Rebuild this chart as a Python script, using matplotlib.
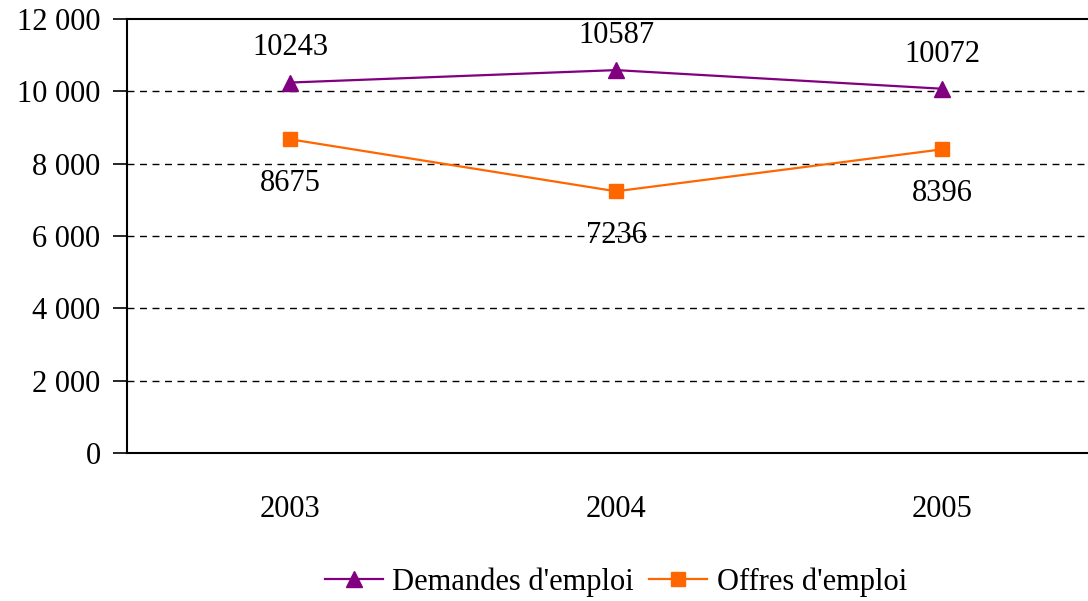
import matplotlib.pyplot as plt
from matplotlib.ticker import FuncFormatter

years = ["2003", "2004", "2005"]
demandes = [10243, 10587, 10072]
offres = [8675, 7236, 8396]

plt.rcParams['font.family'] = ['Liberation Serif', 'DejaVu Serif']
FS = 22

fig = plt.figure(figsize=(10.88, 6.01), dpi=100)
ax = fig.add_axes([127/1088, 148/601, 978/1088, 434/601])

x = list(range(len(years)))
ax.plot(x, demandes, color='#800080', marker='^', markersize=12, lw=1.6,
        label="Demandes d'emploi", zorder=3)
ax.plot(x, offres, color='#FF6600', marker='s', markersize=10.5, lw=1.6,
        label="Offres d'emploi", zorder=3)

for xi, v in zip(x, demandes):
    ax.annotate(str(v), (xi, v), xytext=(0, 25), textcoords='offset points',
                ha='center', va='center', fontsize=FS)
for xi, v in zip(x, offres):
    ax.annotate(str(v), (xi, v), xytext=(0, -32), textcoords='offset points',
                ha='center', va='center', fontsize=FS)

ax.set_xlim(-0.5, 2.5)
ax.set_ylim(0, 12000)
ax.set_yticks(range(0, 12001, 2000))
ax.yaxis.set_major_formatter(FuncFormatter(lambda v, p: f"{int(v):,}".replace(",", " ")))
ax.set_xticks(x)
ax.set_xticklabels(years)
ax.tick_params(axis='x', length=0, pad=30, labelsize=FS)
ax.tick_params(axis='y', length=10, width=1.2, direction='out', pad=9, labelsize=FS)

for yv in range(2000, 12000, 2000):
    ax.axhline(yv, color='black', lw=1, linestyle=(0, (5, 4)), zorder=1)

for s in ax.spines.values():
    s.set_linewidth(1.5)

ax.legend(loc='upper center', bbox_to_anchor=(0.5, -0.2), ncol=2,
          frameon=False, fontsize=FS, handlelength=1.9, handletextpad=0.3,
          columnspacing=0.5)

fig.savefig("out.png", dpi=100)
